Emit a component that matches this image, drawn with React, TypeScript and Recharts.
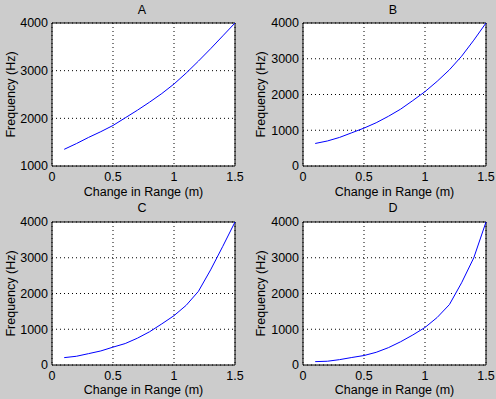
import React from "react";
import { LineChart, Line, XAxis, YAxis, CartesianGrid, ReferenceArea } from "recharts";

const rangeChange = [0.1, 0.2, 0.3, 0.4, 0.5, 0.6, 0.7, 0.8, 0.9, 1.0, 1.1, 1.2, 1.3, 1.4, 1.5];
const freqA = [1350, 1470, 1600, 1720, 1850, 2010, 2170, 2340, 2520, 2720, 2950, 3200, 3460, 3730, 4000];
const freqB = [630, 700, 800, 930, 1060, 1210, 1390, 1590, 1830, 2080, 2370, 2690, 3070, 3520, 4000];
const freqC = [206, 244, 318, 393, 500, 600, 750, 930, 1150, 1380, 1670, 2060, 2660, 3320, 4000];
const freqD = [94, 105, 150, 210, 265, 355, 485, 650, 840, 1050, 1330, 1690, 2300, 3000, 4000];

const xTicks = [0, 0.5, 1, 1.5];
const yTicksA = [1000, 2000, 3000, 4000];
const yTicksFull = [0, 1000, 2000, 3000, 4000];
const titles = ["A", "B", "C", "D"];
const xLabel = "Change in Range (m)";
const yLabel = "Frequency (Hz)";

const FONT = "'Liberation Sans', Arial, Helvetica, sans-serif";
const FS = 12.5;

type PanelProps = {
  title: string;
  values: number[];
  yTicks: number[];
  left: number;
  top: number;
  width: number;
  height: number;
  yAxisWidth: number;
  rightMargin: number;
  xAxisHeight: number;
  titleY: number;
  yLabelX: number;
  xLabelY: number;
};

function Panel(p: PanelProps) {
  const data = rangeChange.map((x, i) => ({ x, f: p.values[i] }));
  const yMin = p.yTicks[0];
  const yMax = p.yTicks[p.yTicks.length - 1];
  const plotLeft = p.yAxisWidth;
  const plotRight = p.width - p.rightMargin;
  const plotTop = 23;
  const plotBottom = p.height - p.xAxisHeight;
  const cx = (plotLeft + plotRight) / 2;
  const cy = (plotTop + plotBottom) / 2;
  const tickStyle = { fill: "#000", fontSize: FS, fontFamily: FONT };

  const yLabelRender = () => (
    <g>
      <text x={cx - 1.5} y={p.titleY} textAnchor="middle" fontSize={FS} fontFamily={FONT} fill="#000">
        {p.title}
      </text>
      <text
        x={p.yLabelX}
        y={cy}
        textAnchor="middle"
        fontSize={FS}
        fontFamily={FONT}
        fill="#000"
        transform={`rotate(-90 ${p.yLabelX} ${cy})`}
      >
        {yLabel}
      </text>
    </g>
  );
  const xLabelRender = () => (
    <text x={cx} y={p.xLabelY} textAnchor="middle" fontSize={FS} fontFamily={FONT} fill="#000">
      {xLabel}
    </text>
  );

  return (
    <div style={{ position: "absolute", left: p.left, top: p.top, width: p.width, height: p.height }}>
      <LineChart
        width={p.width}
        height={p.height}
        data={data}
        margin={{ top: plotTop, right: p.rightMargin, bottom: 0, left: 0 }}
      >
        <CartesianGrid stroke="#000" strokeDasharray="1 3" fill="#ffffff" />
        <XAxis
          dataKey="x"
          type="number"
          domain={[0, 1.5]}
          ticks={xTicks}
          height={p.xAxisHeight}
          tickLine={false}
          axisLine={false}
          tickSize={0}
          tickMargin={6}
          tick={tickStyle}
          interval={0}
          label={xLabelRender}
        />
        <YAxis
          type="number"
          domain={[yMin, yMax]}
          ticks={p.yTicks}
          width={p.yAxisWidth}
          tickLine={false}
          axisLine={false}
          tickSize={0}
          tickMargin={4}
          tick={tickStyle}
          interval={0}
          label={yLabelRender}
        />
        <ReferenceArea x1={0} x2={1.5} y1={yMin} y2={yMax} fill="none" fillOpacity={0} stroke="#000" strokeWidth={1} />
        <Line
          dataKey="f"
          type="linear"
          stroke="#0000ff"
          strokeWidth={1}
          dot={false}
          isAnimationActive={false}
        />
      </LineChart>
    </div>
  );
}

export default function App() {
  return (
    <div
      style={{
        position: "absolute",
        left: 0,
        top: 0,
        width: 496,
        height: 399,
        background: "#cccccc",
        overflow: "hidden",
      }}
    >
      <Panel title={titles[0]} values={freqA} yTicks={yTicksA} left={0} top={0} width={248} height={199}
        yAxisWidth={52} rightMargin={13} xAxisHeight={33} titleY={14} yLabelX={14.5} xLabelY={196} />
      <Panel title={titles[1]} values={freqB} yTicks={yTicksFull} left={248} top={0} width={248} height={199}
        yAxisWidth={55} rightMargin={10} xAxisHeight={33} titleY={14} yLabelX={17} xLabelY={196} />
      <Panel title={titles[2]} values={freqC} yTicks={yTicksFull} left={0} top={199} width={248} height={200}
        yAxisWidth={52} rightMargin={13} xAxisHeight={34} titleY={13} yLabelX={14.5} xLabelY={195} />
      <Panel title={titles[3]} values={freqD} yTicks={yTicksFull} left={248} top={199} width={248} height={200}
        yAxisWidth={55} rightMargin={10} xAxisHeight={34} titleY={13} yLabelX={17} xLabelY={195} />
    </div>
  );
}
